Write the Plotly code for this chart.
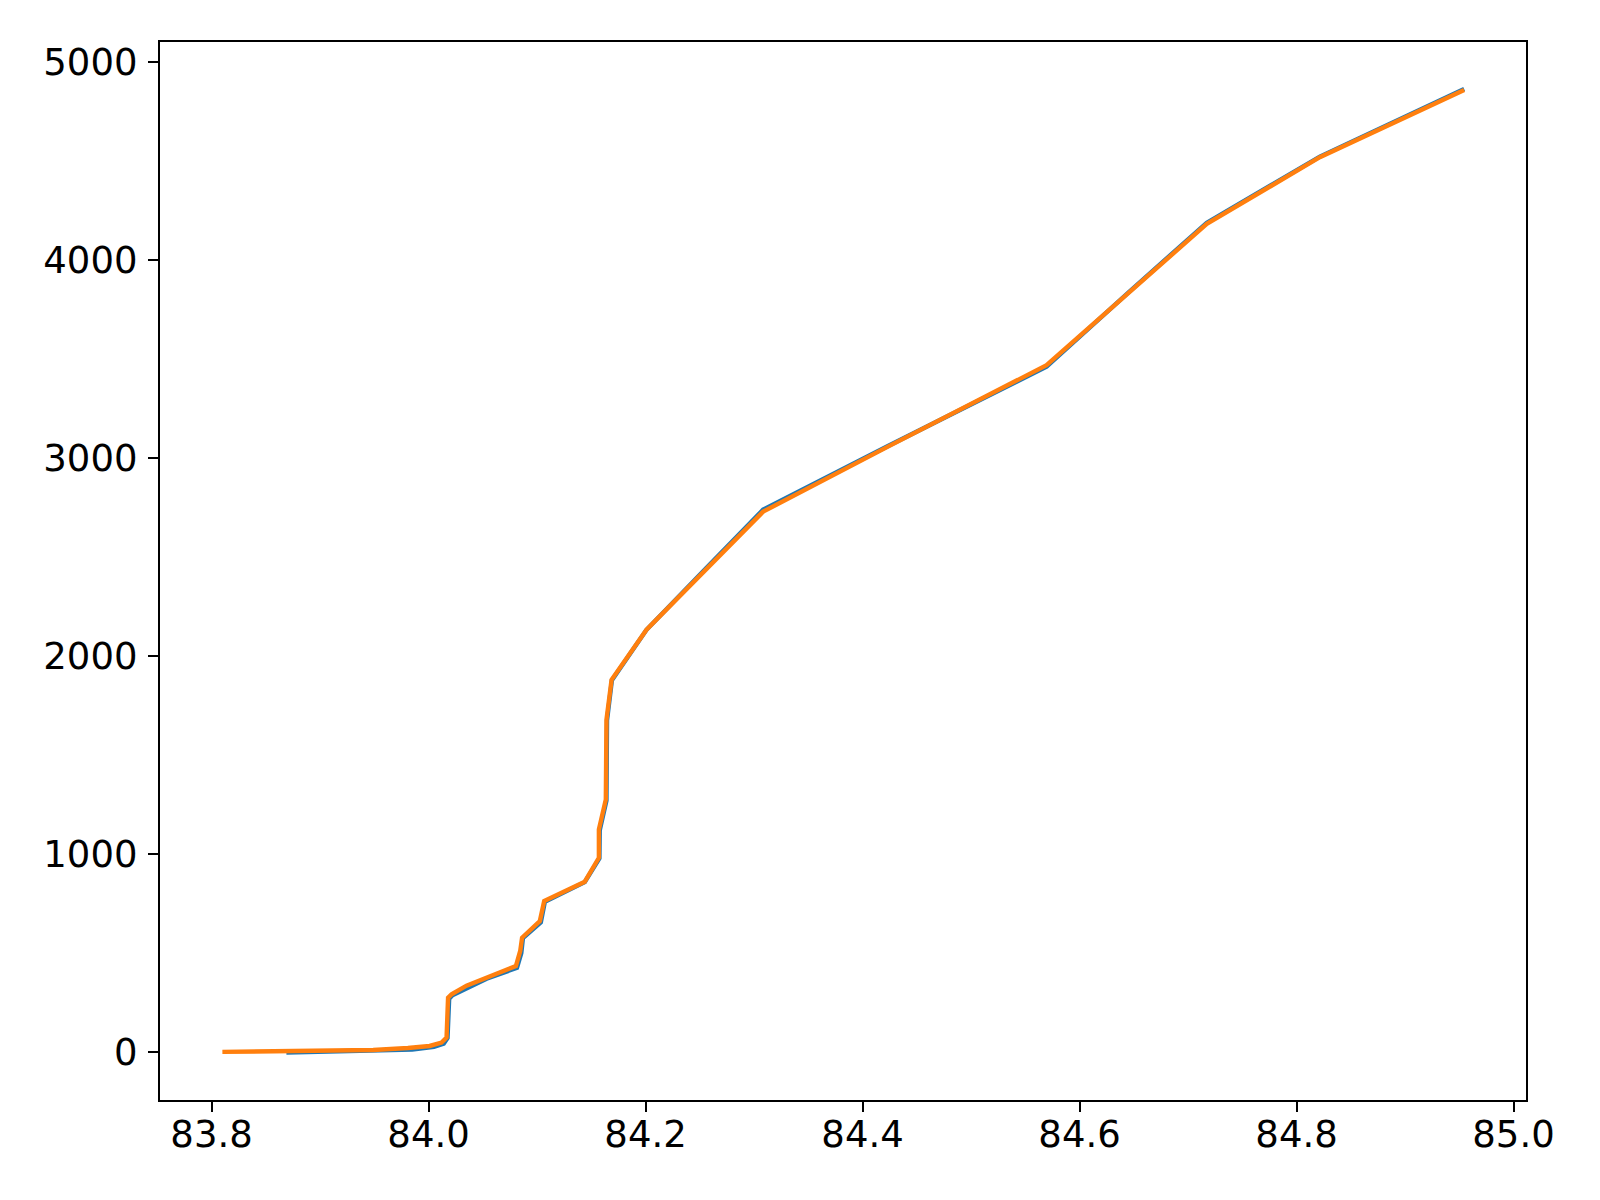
import plotly.graph_objects as go

# Series 1 (blue)
x_blue = [83.869, 83.955, 83.985, 84.005, 84.014, 84.0175, 84.019, 84.022, 84.0535,
          84.0815, 84.0855, 84.087, 84.1035, 84.1072, 84.144, 84.1575, 84.1578, 84.164,
          84.1645, 84.169, 84.2009, 84.256, 84.3084, 84.423, 84.5696, 84.646, 84.7173,
          84.8215, 84.9545]
y_blue = [-3, 6, 12, 25, 42, 70, 268, 286, 370, 425, 500, 575, 655, 758, 858, 978, 1120,
          1270, 1675, 1878, 2133, 2445, 2740, 3060, 3462, 3842, 4190, 4524, 4865]

# Series 2 (orange)
x_orange = [83.81, 83.90, 83.949, 83.981, 84.001, 84.012, 84.0166, 84.018, 84.0212, 84.035,
            84.0535, 84.0805, 84.0845, 84.0862, 84.1026, 84.1066, 84.144, 84.157, 84.157,
            84.1634, 84.164, 84.1687, 84.2009, 84.256, 84.3084, 84.423, 84.5696, 84.646,
            84.7173, 84.8215, 84.9545]
y_orange = [0, 5, 10, 20, 30, 47, 72, 274, 291, 335, 375, 434, 510, 577, 661, 762, 860,
            981, 1124, 1275, 1679, 1880, 2133, 2440, 2730, 3057, 3470, 3839, 4184, 4521,
            4861]

x_ticks = [83.8, 84.0, 84.2, 84.4, 84.6, 84.8, 85.0]
y_ticks = [0, 1000, 2000, 3000, 4000, 5000]

fig = go.Figure()
fig.add_trace(go.Scatter(x=x_blue, y=y_blue, mode="lines",
                         line=dict(color="#1f77b4", width=4.4), showlegend=False))
fig.add_trace(go.Scatter(x=x_orange, y=y_orange, mode="lines",
                         line=dict(color="#ff7f0e", width=4.4), showlegend=False))

axis_common = dict(showgrid=False, zeroline=False, showline=True, linecolor="black",
                   linewidth=2.2, mirror=True, ticks="outside", ticklen=10, tickwidth=2.2,
                   tickcolor="black",
                   tickfont=dict(family="DejaVu Sans", size=37, color="black"))

fig.update_xaxes(range=[83.7525, 85.0115], tickvals=x_ticks,
                 ticktext=[f"{v:.1f}" for v in x_ticks], ticklabelstandoff=-10,
                 **axis_common)
fig.update_yaxes(range=[-243, 5103], tickvals=y_ticks,
                 ticktext=[str(v) for v in y_ticks], ticklabelstandoff=3,
                 **axis_common)

fig.update_layout(width=1600, height=1200, plot_bgcolor="white", paper_bgcolor="white",
                  margin=dict(l=152, r=82, t=34, b=108, pad=0))

fig.write_html("out.html")
